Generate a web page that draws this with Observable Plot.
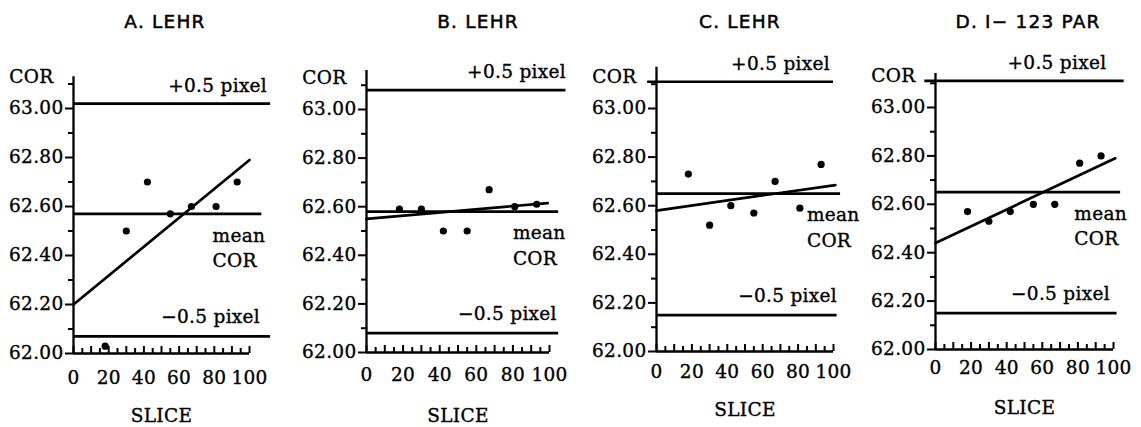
<!DOCTYPE html>
<html><head><meta charset="utf-8">
<script src="https://cdn.jsdelivr.net/npm/d3@7"></script>
<script src="https://cdn.jsdelivr.net/npm/@observablehq/plot@0.6"></script>
<style>
html,body{margin:0;padding:0;background:#fff;}
#chart{position:relative;width:1141px;height:427px;overflow:hidden;background:#fff;}
.panel{position:absolute;top:0;height:427px;}
.panel svg{font-family:"DejaVu Serif",serif !important;font-size:18.5px !important;overflow:visible !important;background:transparent !important;color:#000;}
.panel svg text{stroke:#000;stroke-width:0.35px;letter-spacing:0.3px;}
.title{position:absolute;top:12px;line-height:20px;font-family:"DejaVu Sans",sans-serif;font-weight:normal;font-size:18.5px;letter-spacing:1.2px;-webkit-text-stroke:0.5px #000;white-space:nowrap;transform:translateX(-50%);color:#000;}
</style></head><body><div id="chart"></div>
<script>
// ---- data ----
const panelTitles = ["A. LEHR", "B. LEHR", "C. LEHR", "D. I\u2212 123 PAR"];
const slices = [18, 30, 42, 55, 67, 81, 93];
const corA = [62.03, 62.50, 62.70, 62.57, 62.60, 62.60, 62.70];
const corB = [62.59, 62.59, 62.50, 62.50, 62.67, 62.60, 62.61];
const corC = [62.73, 62.52, 62.60, 62.57, 62.70, 62.59, 62.77];
const corD = [62.57, 62.53, 62.57, 62.60, 62.60, 62.77, 62.80];
const upperLimit = [63.02, 63.08, 63.11, 63.11];   // +0.5 pixel
const meanCor    = [62.57, 62.58, 62.65, 62.65];   // mean COR
const lowerLimit = [62.07, 62.08, 62.15, 62.15];   // -0.5 pixel
const upperFrom  = [0, 0, -5, -6];
const upperTo    = [112, 109, 100, 106];
const meanTo     = [107, 105, 104, 104];
const lowerTo    = [112, 105, 102, 102];
const fitStart   = [62.20, 62.55, 62.58, 62.44];   // fitted line at slice 0
const fitEnd     = [62.79, 62.615, 62.685, 62.79]; // fitted line at its right end
const fitEndSlice = [100, 99, 101, 101];
const xTickLabels = [0, 20, 40, 60, 80, 100];
const xMinorTicks = [0,5,10,15,20,25,30,35,40,45,50,55,60,65,70,75,80,85,90,95,100];
const yTickLabels = [62.0, 62.2, 62.4, 62.6, 62.8, 63.0];
const yMinorTicks = [62.1, 62.3, 62.5, 62.7, 62.9, 63.1];
const labelUpper = "+0.5 pixel", labelLower = "\u22120.5 pixel", labelMean = "mean\nCOR";
const axisNameY = "COR", axisNameX = "SLICE";
const series = [corA, corB, corC, corD];

// ---- layout (pixels) ----
const layout = [
  {left:0,   width:285, x0:73, x100:249, y62:353, y63:108, top:63.13, plusX:110, minusX:106, meanX:79, tickBase:30, sliceBase:68, titleX:165},
  {left:285, width:285, x0:81, x100:264, y62:352, y63:109, top:63.16, plusX:109, minusX:104, meanX:80, tickBase:28, sliceBase:69, titleX:193},
  {left:570, width:285, x0:86, x100:263, y62:351, y63:108, top:63.17, plusX:98,  minusX:102, meanX:85, tickBase:26, sliceBase:64, titleX:170},
  {left:855, width:286, x0:80, x100:258, y62:349, y63:107, top:63.14, plusX:96,  minusX:98,  meanX:78, tickBase:24, sliceBase:64, titleX:173}
];
const FS = 18.5;
const H = 427;
const chart = document.getElementById("chart");

layout.forEach((L, i) => {
  const pxPerUnit = L.y62 - L.y63;
  const pts = slices.map((s, j) => ({slice: s, cor: series[i][j]}));
  const fit = [{slice: 0, cor: fitStart[i]}, {slice: fitEndSlice[i], cor: fitEnd[i]}];
  const sw = 2.7;
  const plot = Plot.plot({
    width: L.width, height: H,
    marginLeft: L.x0, marginRight: L.width - L.x100,
    marginTop: L.y63, marginBottom: H - L.y62,
    x: {domain: [0, 100]},
    y: {domain: [62, 63]},
    style: "font-family: 'DejaVu Serif', serif; font-size: 18.5px; overflow: visible; background: transparent; color: #000;",
    marks: [
      Plot.ruleX([0], {y1: 62, y2: L.top, strokeWidth: 2.3}),
      Plot.ruleY([62], {x1: 0, x2: 100, strokeWidth: 2.3}),
      Plot.axisY({ticks: yTickLabels, tickSize: 8, tickPadding: 2, strokeWidth: 2, tickFormat: d3.format(".2f"), label: null}),
      Plot.axisY({ticks: yMinorTicks, tickSize: 5, strokeWidth: 2, tickFormat: () => "", label: null}),
      Plot.ruleX(xMinorTicks, {x: d => d, y1: 62, y2: d => 62 + (d % 10 === 0 ? 7 : 5) / pxPerUnit, strokeWidth: 2}),
      Plot.axisX({ticks: xTickLabels, tickSize: 0, tickPadding: L.tickBase - 0.71 * FS, tickFormat: d => String(d), label: null}),
      Plot.text([axisNameX], {frameAnchor: "bottom", dy: L.sliceBase, lineAnchor: "bottom"}),
      Plot.text([axisNameY], {frameAnchor: "top-left", dx: -20, dy: -26, textAnchor: "end", lineAnchor: "bottom"}),
      Plot.ruleY([upperLimit[i]], {x1: upperFrom[i], x2: upperTo[i], strokeWidth: sw}),
      Plot.ruleY([meanCor[i]], {x1: 0, x2: meanTo[i], strokeWidth: sw}),
      Plot.ruleY([lowerLimit[i]], {x1: 0, x2: lowerTo[i], strokeWidth: sw}),
      Plot.line(fit, {x: "slice", y: "cor", strokeWidth: sw}),
      Plot.dot(pts, {x: "slice", y: "cor", r: 3.6, fill: "#000", stroke: null}),
      Plot.text([labelUpper], {x: L.plusX, y: upperLimit[i], textAnchor: "end", lineAnchor: "bottom", dy: -12}),
      Plot.text([labelLower], {x: L.minusX, y: lowerLimit[i], textAnchor: "end", lineAnchor: "bottom", dy: -13}),
      Plot.text([labelMean], {x: L.meanX, y: meanCor[i], textAnchor: "start", lineAnchor: "top", dy: 10, lineHeight: 1.36})
    ]
  });
  const div = document.createElement("div");
  div.className = "panel";
  div.style.left = L.left + "px";
  div.style.width = L.width + "px";
  plot.style.position = "absolute";
  plot.style.left = "0px";
  plot.style.top = "0px";
  plot.style.maxWidth = "none";
  div.appendChild(plot);
  const t = document.createElement("div");
  t.className = "title";
  t.style.left = L.titleX + "px";
  t.textContent = panelTitles[i];
  div.appendChild(t);
  chart.appendChild(div);
});
</script>
</body></html>
